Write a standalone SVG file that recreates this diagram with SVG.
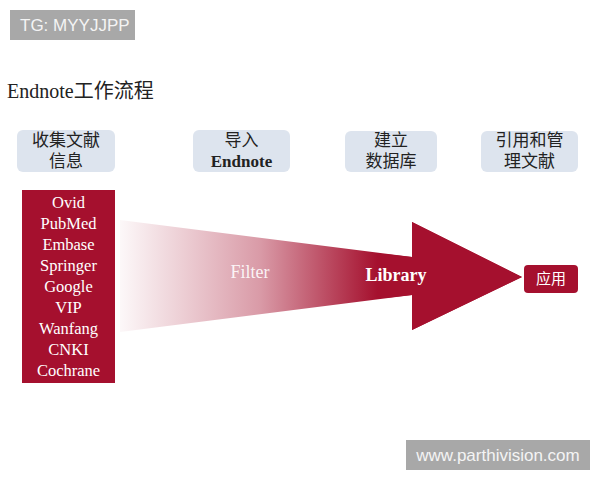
<svg xmlns="http://www.w3.org/2000/svg" width="600" height="480" viewBox="0 0 600 480">
<defs>
<linearGradient id="fade" x1="120" y1="0" x2="400" y2="0" gradientUnits="userSpaceOnUse">
<stop offset="0" stop-color="#a5102e" stop-opacity="0.03"/>
<stop offset="0.5" stop-color="#a5102e" stop-opacity="0.42"/>
<stop offset="0.92" stop-color="#a5102e" stop-opacity="1"/>
</linearGradient>
<style>
.wm{fill:#a8a8a8}
.wmt{font-family:"Liberation Sans","Noto Sans CJK SC",sans-serif;font-size:17px;fill:#f4f4f4}
.step{fill:#dde4ee}
.st{font-family:"Liberation Serif","Noto Sans CJK SC",serif;font-size:17px;fill:#222;text-anchor:middle}
.red{fill:#a5102e}
.lt{font-family:"Liberation Serif",serif;font-size:16.5px;fill:#fff;text-anchor:middle}
</style>
</defs>
<rect width="600" height="480" fill="#fff"/>
<g id="tg"><rect class="wm" x="10" y="10" width="125" height="30"/><text class="wmt" x="20" y="31">TG: MYYJJPP</text></g>
<text x="7" y="98" font-family="Liberation Serif,Noto Sans CJK SC,serif" font-size="20" fill="#222">Endnote工作流程</text>
<g id="step1"><rect class="step" x="17" y="130" width="98" height="42" rx="6"/><text class="st" x="66" y="146">收集文献</text><text class="st" x="66" y="167">信息</text></g>
<g id="step2"><rect class="step" x="193" y="130" width="97" height="42" rx="6"/><text class="st" x="241.5" y="146">导入</text><text class="st" x="241.5" y="167" font-weight="bold">Endnote</text></g>
<g id="step3"><rect class="step" x="345" y="131" width="92" height="41" rx="6"/><text class="st" x="391" y="146">建立</text><text class="st" x="391" y="167">数据库</text></g>
<g id="step4"><rect class="step" x="481" y="131" width="97" height="41" rx="6"/><text class="st" x="529.5" y="146">引用和管</text><text class="st" x="529.5" y="167">理文献</text></g>
<g id="sources"><rect class="red" x="22" y="190" width="93" height="193"/>
<text class="lt" x="68.5" y="208">Ovid</text>
<text class="lt" x="68.5" y="229">PubMed</text>
<text class="lt" x="68.5" y="250">Embase</text>
<text class="lt" x="68.5" y="271">Springer</text>
<text class="lt" x="68.5" y="292">Google</text>
<text class="lt" x="68.5" y="313">VIP</text>
<text class="lt" x="68.5" y="334">Wanfang</text>
<text class="lt" x="68.5" y="355">CNKI</text>
<text class="lt" x="68.5" y="376">Cochrane</text>
</g>
<g id="connectors">
<polygon points="120,220 412,257 412,222 522,277 412,330 412,295 120,332" fill="url(#fade)"/>
<polygon points="385,254 412,257 412,222 522,277 412,330 412,295 385,298" fill="#a5102e"/>
<text x="250" y="278" font-family="Liberation Serif,serif" font-size="18" fill="#fff" fill-opacity="0.9" text-anchor="middle">Filter</text>
<text x="396" y="281" font-family="Liberation Serif,serif" font-size="18" font-weight="bold" fill="#fff" text-anchor="middle">Library</text>
</g>
<g id="apply"><rect class="red" x="524" y="265" width="54" height="28" rx="4"/><text x="551" y="284" font-family="Liberation Sans,Noto Sans CJK SC,sans-serif" font-size="15" fill="#fff" text-anchor="middle">应用</text></g>
<g id="site"><rect class="wm" x="406" y="440" width="184" height="30"/><text class="wmt" x="498" y="461" text-anchor="middle">www.parthivision.com</text></g>
</svg>
